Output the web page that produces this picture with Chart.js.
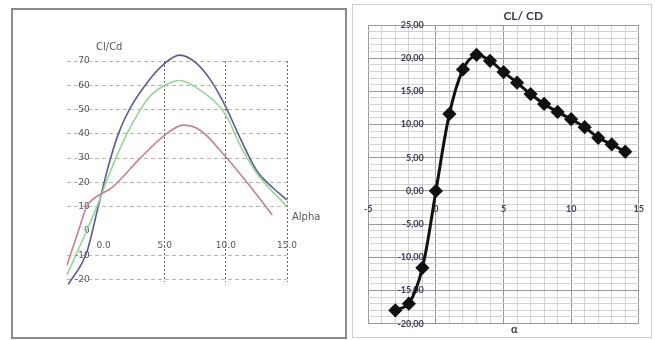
<!DOCTYPE html>
<html>
<head>
<meta charset="utf-8">
<script src="https://cdn.jsdelivr.net/npm/chart.js@4/dist/chart.umd.min.js"></script>
<style>
    body { margin: 0; background: #fff; width: 655px; height: 340px; position: relative; overflow: hidden; }
    .panel { position: absolute; box-sizing: border-box; }
    #leftPanel { left: 11px; top: 8px; width: 336px; height: 331px; border: 2px solid #8a8a8a; }
    #rightPanel { left: 352px; top: 4px; width: 300px; height: 334px; border: 1px solid #cfcfcf; }
    canvas { position: absolute; }
    #polarChart { left: 14px; top: 11px; }
    #clcdChart { left: 351px; top: 6px; }
</style>
</head>
<body>
<div class="panel" id="leftPanel"></div>
<div class="panel" id="rightPanel"></div>
<canvas id="polarChart" width="330" height="325"></canvas>
<canvas id="clcdChart" width="306" height="330"></canvas>
<script>
// Left chart - Cl/Cd vs Alpha, three polars
const blueAlpha = [-2.9, -1.4, -0.4, 0.4, 1.2, 2.1, 3.7, 5, 6.2, 7.6, 8.9, 10, 11.1, 12.5, 13.8, 15];
const blueClCd = [-22, -9, 11, 27, 40, 50, 62, 69, 72.4, 69, 61, 51, 39, 25, 18, 12.8];
const greenAlpha = [-3, -1.4, -0.4, 0.2, 1.0, 1.9, 3.7, 5, 6.2, 7.9, 10, 11.1, 12.5, 15];
const greenClCd = [-18, 0, 12, 20, 30, 40, 55, 60, 62, 58, 47.7, 36, 24, 10];
const redAlpha = [-3, -2, -1.4, -0.9, 0.7, 2.9, 5, 6.5, 7.9, 10, 12.2, 13.8];
const redClCd = [-14, 1, 10, 13, 18, 29.5, 39.5, 43.6, 41.5, 30.5, 17, 6.6];
const leftXTicks = [0, 5, 10, 15];
const leftYTicks = [-20, -10, 0, 10, 20, 30, 40, 50, 60, 70];

// Right chart - CL/CD vs alpha
const alpha = [-3, -2, -1, 0, 1, 2, 3, 4, 5, 6, 7, 8, 9, 10, 11, 12, 13, 14];
const clcd = [-18, -17, -11.6, 0, 11.6, 18.3, 20.5, 19.6, 17.9, 16.3, 14.6, 13.1, 11.9, 10.8, 9.6, 8.0, 7.0, 5.9];

function toPoints(xs, ys) {
    return xs.map((x, i) => ({ x: x, y: ys[i] }));
}

// draws loose axis captions relative to the chart area
const freeLabels = {
    id: 'freeLabels',
    afterDraw(chart, args, opts) {
        const ctx = chart.ctx;
        ctx.save();
        ctx.textBaseline = 'middle';
        opts.items.forEach(item => {
            ctx.font = item.font;
            ctx.fillStyle = item.color;
            ctx.textAlign = item.align || 'left';
            const p = item.at(chart);
            ctx.fillText(item.text, p[0], p[1]);
        });
        ctx.restore();
    }
};

const leftFont = { family: 'DejaVu Sans', size: 9 };

new Chart(document.getElementById('polarChart'), {
    type: 'line',
    data: {
        datasets: [
            { data: toPoints(redAlpha, redClCd), borderColor: '#c98090' },
            { data: toPoints(greenAlpha, greenClCd), borderColor: '#8fd98f' },
            { data: toPoints(blueAlpha, blueClCd), borderColor: '#5a5a9e' }
        ]
    },
    options: {
        responsive: false,
        animation: false,
        layout: { padding: { left: 37, right: 57, top: 50, bottom: 54 } },
        datasets: { line: { borderWidth: 1.6, pointRadius: 0, cubicInterpolationMode: 'monotone', clip: false } },
        plugins: {
            legend: { display: false },
            tooltip: { enabled: false },
            freeLabels: {
                items: [
                    { text: 'Cl/Cd', font: '10px "DejaVu Sans"', color: '#555', at: c => [c.chartArea.left + 29, c.chartArea.top - 14] },
                    { text: 'Alpha', font: '10px "DejaVu Sans"', color: '#555', at: c => [c.chartArea.right + 5, c.scales.y.getPixelForValue(5.4)] }
                ]
            }
        },
        scales: {
            x: {
                type: 'linear',
                min: -3,
                max: 15,
                position: { y: 0 },
                afterBuildTicks: s => { s.ticks = leftXTicks.map(v => ({ value: v })); },
                ticks: { font: leftFont, color: '#555', padding: 9, callback: v => v.toFixed(1) },
                grid: {
                    drawTicks: false,
                    color: c => c.tick && c.tick.value === 0 ? 'rgba(0,0,0,0)' : '#666666'
                },
                border: { display: false, dash: [2, 2] }
            },
            y: {
                min: -21,
                max: 70,
                afterBuildTicks: s => { s.ticks = leftYTicks.map(v => ({ value: v })); },
                ticks: { font: leftFont, color: '#555', mirror: true, crossAlign: 'far', padding: 8 },
                grid: {
                    drawTicks: false,
                    color: c => c.tick && c.tick.value === 0 ? 'rgba(0,0,0,0)' : '#b4b9a4'
                },
                border: { display: false, dash: [4, 3] }
            }
        }
    },
    plugins: [freeLabels]
});

const rightFont = { family: 'Lato', size: 9, weight: 'bold' };
const gridColor = c => (c.tick && c.tick.value % 5 === 0) ? '#999999' : '#d2d2d2';

new Chart(document.getElementById('clcdChart'), {
    type: 'line',
    data: {
        datasets: [{
            data: toPoints(alpha, clcd),
            borderColor: '#111',
            backgroundColor: '#111',
            borderWidth: 3,
            tension: 0.35,
            pointStyle: 'rectRot',
            pointRadius: 5
        }]
    },
    options: {
        responsive: false,
        animation: false,
        layout: { padding: { left: 10, right: 8, top: 19, bottom: 12 } },
        plugins: {
            legend: { display: false },
            tooltip: { enabled: false },
            freeLabels: {
                items: [
                    { text: 'CL/ CD', font: 'bold 12px Lato', color: '#3a3a58', align: 'center', at: c => [c.chartArea.left + 155, c.chartArea.top - 9] },
                    { text: 'α', font: 'bold 11px Lato', color: '#3a3a58', align: 'center', at: c => [c.chartArea.left + 146, c.chartArea.bottom + 6] }
                ]
            }
        },
        scales: {
            x: {
                type: 'linear',
                min: -5,
                max: 15,
                position: { y: 0 },
                ticks: {
                    stepSize: 1,
                    autoSkip: false,
                    maxRotation: 0,
                    font: rightFont,
                    color: '#3d3d5c',
                    padding: 13,
                    callback: v => v % 5 === 0 ? String(v) : ''
                },
                grid: { drawTicks: false, color: gridColor },
                border: { display: false }
            },
            y: {
                min: -20,
                max: 25,
                position: { x: -0.9 },
                ticks: {
                    stepSize: 1,
                    autoSkip: false,
                    font: rightFont,
                    color: '#3d3d5c',
                    padding: 7,
                    callback: v => v % 5 === 0 ? v.toFixed(2).replace('.', ',') : ''
                },
                grid: { drawTicks: false, color: gridColor },
                border: { display: false }
            }
        }
    },
    plugins: [freeLabels]
});
</script>
</body>
</html>
